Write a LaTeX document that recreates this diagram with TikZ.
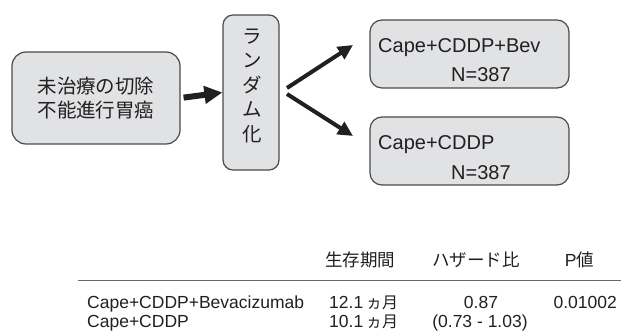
\documentclass[tikz,border=0pt]{standalone}
\usepackage{fontspec}
\setmainfont{Liberation Sans}
\newfontfamily\jp{Noto Sans CJK JP}
\usetikzlibrary{arrows.meta}
\definecolor{boxfill}{HTML}{E1E2E4}
\definecolor{boxline}{HTML}{4A4A4A}
\definecolor{ink}{HTML}{231F20}
\definecolor{rule}{HTML}{6A6A6A}
\begin{document}
\begin{tikzpicture}[x=1pt,y=-1pt,
  box/.style={draw=boxline, line width=1.2pt, fill=boxfill, inner sep=0pt, text=ink},
  lbl/.style={inner sep=0pt, text=ink},
  bigjp/.style={font=\jp\fontsize{19.5}{23.5}\selectfont},
  biglat/.style={font=\fontsize{20}{24}\selectfont},
  tab/.style={font=\fontsize{17.5}{21}\selectfont},
  tabjp/.style={font=\jp\fontsize{17.5}{21}\selectfont},
  fatarrow/.style={line width=6pt, draw=ink, -{Triangle[length=18pt,width=17pt]}},
  brancharrow/.style={line width=4pt, draw=ink, -{Triangle[length=15pt,width=14pt]}}
]
\useasboundingbox (0,0) rectangle (621,331);

% boxes
\node[box, rounded corners=14pt, minimum width=168pt, minimum height=92pt, bigjp, align=center] (pat) at (96,98) {未治療の切除\\不能進行胃癌};
\node[box, rounded corners=10pt, minimum width=56pt, minimum height=155pt] (rand) at (251,92.5) {};
\node[lbl, align=center, font=\jp\fontsize{19.5}{24.5}\selectfont] (randtxt) at (252,85.5) {ラ\\ン\\ダ\\ム\\化};
\node[box, rounded corners=12pt, minimum width=199pt, minimum height=68pt] (armA) at (469.5,54) {};
\node[box, rounded corners=12pt, minimum width=199pt, minimum height=68pt] (armB) at (469.5,151) {};
\node[lbl, biglat, anchor=base west] (armAname) at (378,53) {Cape+CDDP+Bev};
\node[lbl, biglat, anchor=base west] (armAn) at (451,82) {N=387};
\node[lbl, biglat, anchor=base west] (armBname) at (378,150) {Cape+CDDP};
\node[lbl, biglat, anchor=base west] (armBn) at (451,180) {N=387};

% arrows
\draw[fatarrow, shorten <=3pt] (pat.east) -- (rand.west);
\coordinate (sA) at (287,88);
\coordinate (sB) at (287,94);
\coordinate (tA) at (353,45);
\coordinate (tB) at (353,136);
\draw[brancharrow] (sA) -- (tA);
\draw[brancharrow] (sB) -- (tB);

% table
\node[lbl, tabjp, anchor=base] (h1) at (360,266) {生存期間};
\node[lbl, tabjp, anchor=base] (h2) at (476,266) {ハザード比};
\node[lbl, tab, anchor=base] (h3) at (579.5,266) {P{\jp\fontsize{17.5}{21}\selectfont 値}};
\coordinate (ruleL) at (78,280.5);
\coordinate (ruleR) at (621,280.5);
\draw[rule, line width=1.5pt] (ruleL) -- (ruleR);

\node[lbl, tab, anchor=base west] (r1a) at (87,308) {Cape+CDDP+Bevacizumab};
\node[lbl, tab, anchor=base west] (r1b) at (329,308) {12.1\,{\jp\fontsize{16}{20}\selectfont ヵ月}};
\node[lbl, tab, anchor=base] (r1c) at (481,308) {0.87};
\node[lbl, tab, anchor=base east] (r1d) at (617,308) {0.01002};

\node[lbl, tab, anchor=base west] (r2a) at (87,327.5) {Cape+CDDP};
\node[lbl, tab, anchor=base west] (r2b) at (329,327.5) {10.1\,{\jp\fontsize{16}{20}\selectfont ヵ月}};
\node[lbl, tab, anchor=base] (r2c) at (480,327.5) {(0.73 - 1.03)};
\end{tikzpicture}
\end{document}
